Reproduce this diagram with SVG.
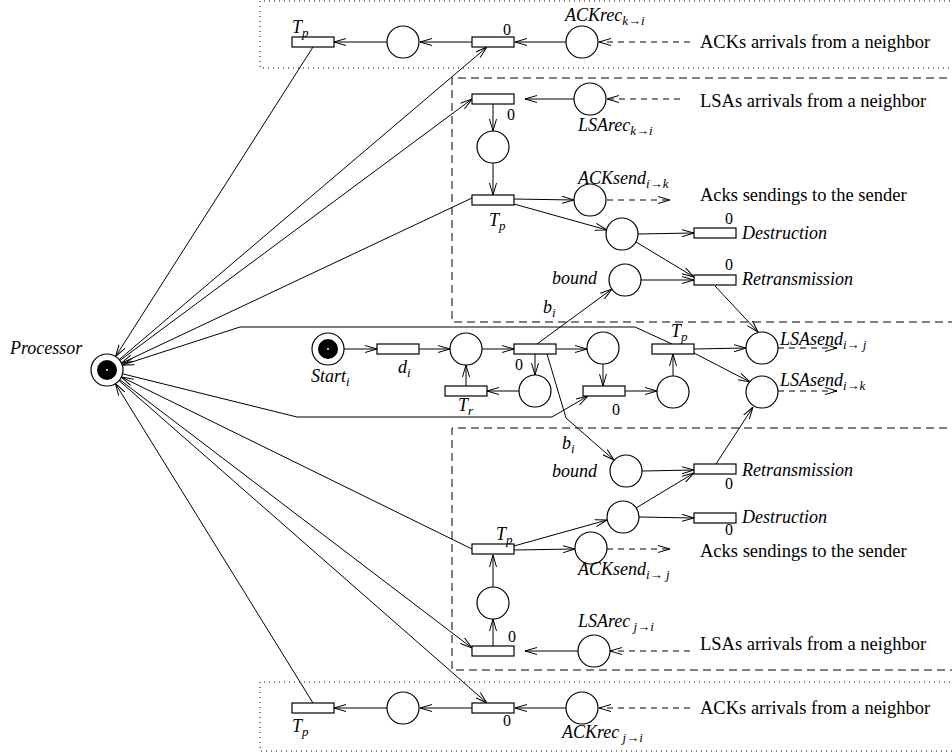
<svg xmlns="http://www.w3.org/2000/svg" width="952" height="756" viewBox="0 0 952 756">
<style>
.pl{fill:#fff;stroke:#000;stroke-width:1.2}
.tr{fill:#fff;stroke:#000;stroke-width:1.2}
.c{fill:none;stroke:#000;stroke-width:1;marker-end:url(#ah)}
.n{fill:none;stroke:#000;stroke-width:1}
.d{fill:none;stroke:#000;stroke-width:1;stroke-dasharray:6 5;marker-end:url(#ah)}
.bx{fill:none;stroke:#000;stroke-width:1;stroke-dasharray:8 5}
.dt{fill:none;stroke:#000;stroke-width:1;stroke-dasharray:1 4}
.l{font-family:"Liberation Serif",serif;font-style:italic;font-size:18px;fill:#000}
.s{font-size:13px}
.z{font-family:"Liberation Serif",serif;font-size:16px;fill:#000}
.t{font-family:"Liberation Serif",serif;font-size:18.5px;fill:#000}
</style>
<defs>
<marker id="ah" viewBox="0 0 12 8" refX="12" refY="4" markerWidth="12" markerHeight="8" markerUnits="userSpaceOnUse" orient="auto">
<path d="M0,0.5 L12,4 L0,7.5" fill="none" stroke="#000" stroke-width="1" stroke-dasharray="none"/>
</marker>
</defs>
<rect width="952" height="756" fill="#fff"/>

<g id="boxes">
<path class="dt" d="M960,1 H260 V68 H960"/>
<path class="bx" d="M960,78 H452 V322 H960"/>
<path class="bx" d="M960,428 H452 V670 H960"/>
<path class="dt" d="M960,682 H260 V751 H960"/>
</g>

<g id="connectors">
<line class="c" x1="566" y1="42" x2="515" y2="42"/>
<line class="c" x1="472" y1="42" x2="420" y2="42"/>
<line class="c" x1="387" y1="42" x2="334" y2="42"/>
<line class="d" x1="690" y1="42" x2="599" y2="42"/>
<line class="c" x1="574" y1="99" x2="525" y2="99"/>
<line class="d" x1="680" y1="99" x2="607" y2="99"/>
<line class="c" x1="493" y1="104" x2="493" y2="131"/>
<line class="c" x1="493" y1="163" x2="493" y2="195"/>
<line class="c" x1="514" y1="199" x2="574" y2="200"/>
<line class="d" x1="607" y1="200" x2="670" y2="200"/>
<line class="c" x1="514" y1="204" x2="607" y2="230"/>
<line class="c" x1="638" y1="234" x2="694" y2="233"/>
<line class="c" x1="636" y1="242" x2="694" y2="277"/>
<line class="c" x1="641" y1="280" x2="694" y2="280"/>
<line class="c" x1="715" y1="286" x2="758" y2="332"/>
<line class="c" x1="344" y1="349" x2="377" y2="349"/>
<line class="c" x1="419" y1="349" x2="450" y2="349"/>
<line class="c" x1="482" y1="349" x2="514" y2="349"/>
<line class="c" x1="535" y1="354" x2="535" y2="375"/>
<line class="c" x1="519" y1="391" x2="487" y2="391"/>
<line class="c" x1="466" y1="386" x2="466" y2="365"/>
<line class="c" x1="557" y1="349" x2="587" y2="349"/>
<line class="c" x1="603" y1="364" x2="603" y2="386"/>
<line class="c" x1="625" y1="391" x2="657" y2="391"/>
<line class="c" x1="673" y1="376" x2="673" y2="354"/>
<line class="c" x1="694" y1="349" x2="746" y2="348"/>
<line class="c" x1="694" y1="353" x2="750" y2="382"/>
<line class="d" x1="778" y1="348" x2="837" y2="348"/>
<line class="d" x1="778" y1="391" x2="837" y2="391"/>
<line class="c" x1="537" y1="344" x2="612" y2="289"/>
<polyline class="c" points="547,354 566,418 614,460"/>
<line class="c" x1="642" y1="471" x2="694" y2="470"/>
<line class="c" x1="716" y1="464" x2="753" y2="407"/>
<line class="c" x1="639" y1="517" x2="694" y2="518"/>
<line class="c" x1="636" y1="508" x2="694" y2="473"/>
<line class="c" x1="514" y1="546" x2="607" y2="520"/>
<line class="c" x1="514" y1="550" x2="575" y2="549"/>
<line class="d" x1="607" y1="549" x2="670" y2="549"/>
<line class="c" x1="493" y1="587" x2="493" y2="555"/>
<line class="c" x1="493" y1="646" x2="493" y2="619"/>
<line class="c" x1="578" y1="651" x2="525" y2="651"/>
<line class="d" x1="690" y1="651" x2="610" y2="651"/>
<line class="c" x1="566" y1="708" x2="515" y2="708"/>
<line class="c" x1="472" y1="708" x2="420" y2="708"/>
<line class="c" x1="387" y1="708" x2="334" y2="708"/>
<line class="d" x1="690" y1="708" x2="599" y2="708"/>
<line class="c" x1="313" y1="47" x2="115.6" y2="356.5"/>
<line class="c" x1="119.2" y1="359.6" x2="487" y2="47"/>
<line class="c" x1="119.8" y1="360.5" x2="472" y2="99"/>
<line class="c" x1="472" y1="198" x2="121.5" y2="363.2"/>
<polyline class="c" points="672,344 635,327 240,327 122.2,365.1"/>
<polyline class="c" points="122.5,373.8 297,417 552,417 588,396"/>
<line class="c" x1="472" y1="549" x2="121.4" y2="377"/>
<line class="c" x1="119.7" y1="379.7" x2="472" y2="648"/>
<line class="c" x1="119" y1="380.5" x2="487" y2="703"/>
<line class="c" x1="313" y1="703" x2="115.4" y2="383.6"/>
</g>

<g id="processor">
<circle class="pl" cx="107" cy="370" r="16"/>
<circle cx="107" cy="370" r="10" fill="#000"/>
<circle cx="107" cy="370" r="1" fill="#fff"/>
<text class="l" x="10" y="354">Processor</text>
</g>

<g id="top-tp"><rect class="tr" x="292" y="37" width="42" height="10"/><text class="l" x="292" y="33">T<tspan class="s" dy="4">p</tspan></text></g>
<g id="top-p"><circle class="pl" cx="403" cy="42" r="16"/></g>
<g id="top-t0"><rect class="tr" x="472" y="37" width="42" height="10"/><text class="z" x="503" y="35">0</text></g>
<g id="top-ackrec"><circle class="pl" cx="582" cy="42" r="16"/><text class="l" x="565" y="21">ACKrec<tspan class="s" dy="4">k→i</tspan></text></g>
<g id="top-note"><text class="t" x="700" y="48">ACKs arrivals from a neighbor</text></g>

<g id="up-t0"><rect class="tr" x="472" y="94" width="42" height="10"/><text class="z" x="507" y="120">0</text></g>
<g id="up-lsarec"><circle class="pl" cx="590" cy="99" r="16"/><text class="l" x="578" y="131">LSArec<tspan class="s" dy="4">k→i</tspan></text></g>
<g id="up-lsa-note"><text class="t" x="700" y="107">LSAs arrivals from a neighbor</text></g>
<g id="up-p1"><circle class="pl" cx="493" cy="147" r="16"/></g>
<g id="up-tp"><rect class="tr" x="472" y="195" width="42" height="10"/><text class="l" x="489" y="226">T<tspan class="s" dy="4">p</tspan></text></g>
<g id="up-acksend"><circle class="pl" cx="590" cy="200" r="16"/><text class="l" x="578" y="184">ACKsend<tspan class="s" dy="4">i→k</tspan></text></g>
<g id="up-ack-note"><text class="t" x="700" y="201">Acks sendings to the sender</text></g>
<g id="up-p2"><circle class="pl" cx="622" cy="234" r="16"/></g>
<g id="up-destr"><rect class="tr" x="694" y="228" width="42" height="10"/><text class="z" x="725" y="224">0</text><text class="l" x="742" y="239">Destruction</text></g>
<g id="up-bound"><circle class="pl" cx="625" cy="280" r="16"/><text class="l" x="552" y="284">bound</text></g>
<g id="up-retr"><rect class="tr" x="694" y="275" width="42" height="10"/><text class="z" x="725" y="270">0</text><text class="l" x="742" y="285">Retransmission</text></g>

<g id="start"><circle class="pl" cx="328" cy="349" r="16"/><circle cx="328" cy="349" r="10" fill="#000"/><circle cx="328" cy="349" r="1" fill="#fff"/><text class="l" x="311" y="382">Start<tspan class="s" dy="4">i</tspan></text></g>
<g id="di"><rect class="tr" x="377" y="344" width="42" height="10"/><text class="l" x="398" y="373">d<tspan class="s" dy="4">i</tspan></text></g>
<g id="band-p1"><circle class="pl" cx="466" cy="349" r="16"/></g>
<g id="band-t0"><rect class="tr" x="514" y="344" width="42" height="10"/><text class="z" x="515" y="370">0</text></g>
<g id="band-p2"><circle class="pl" cx="535" cy="391" r="16"/></g>
<g id="tr"><rect class="tr" x="445" y="386" width="42" height="10"/><text class="l" x="458" y="411">T<tspan class="s" dy="4">r</tspan></text></g>
<g id="band-p3"><circle class="pl" cx="603" cy="348" r="16"/></g>
<g id="band-t0b"><rect class="tr" x="583" y="386" width="42" height="10"/><text class="z" x="612" y="415">0</text></g>
<g id="band-p4"><circle class="pl" cx="673" cy="392" r="16"/></g>
<g id="band-tp"><rect class="tr" x="652" y="344" width="42" height="10"/><text class="l" x="671" y="337">T<tspan class="s" dy="4">p</tspan></text></g>
<g id="lsasend-j"><circle class="pl" cx="762" cy="348" r="16"/><text class="l" x="780" y="345">LSAsend<tspan class="s" dy="4">i→ j</tspan></text></g>
<g id="lsasend-k"><circle class="pl" cx="762" cy="392" r="16"/><text class="l" x="780" y="386">LSAsend<tspan class="s" dy="4">i→k</tspan></text></g>
<g id="bi-labels"><text class="l" x="543" y="313">b<tspan class="s" dy="4">i</tspan></text><text class="l" x="562" y="449">b<tspan class="s" dy="4">i</tspan></text></g>

<g id="lo-bound"><circle class="pl" cx="626" cy="471" r="16"/><text class="l" x="552" y="477">bound</text></g>
<g id="lo-retr"><rect class="tr" x="694" y="464" width="42" height="10"/><text class="z" x="725" y="489">0</text><text class="l" x="742" y="476">Retransmission</text></g>
<g id="lo-p2"><circle class="pl" cx="623" cy="517" r="16"/></g>
<g id="lo-destr"><rect class="tr" x="694" y="513" width="42" height="10"/><text class="z" x="725" y="535">0</text><text class="l" x="742" y="523">Destruction</text></g>
<g id="lo-tp"><rect class="tr" x="472" y="544" width="42" height="10"/><text class="l" x="496" y="540">T<tspan class="s" dy="4">p</tspan></text></g>
<g id="lo-acksend"><circle class="pl" cx="591" cy="548" r="16"/><text class="l" x="578" y="575">ACKsend<tspan class="s" dy="4">i→ j</tspan></text></g>
<g id="lo-ack-note"><text class="t" x="700" y="557">Acks sendings to the sender</text></g>
<g id="lo-p1"><circle class="pl" cx="493" cy="603" r="16"/></g>
<g id="lo-t0"><rect class="tr" x="472" y="646" width="42" height="10"/><text class="z" x="508" y="642">0</text></g>
<g id="lo-lsarec"><circle class="pl" cx="594" cy="651" r="16"/><text class="l" x="578" y="627">LSArec<tspan class="s" dy="4"> j→i</tspan></text></g>
<g id="lo-lsa-note"><text class="t" x="700" y="650">LSAs arrivals from a neighbor</text></g>

<g id="bot-tp"><rect class="tr" x="292" y="703" width="42" height="10"/><text class="l" x="292" y="732">T<tspan class="s" dy="4">p</tspan></text></g>
<g id="bot-p"><circle class="pl" cx="403" cy="708" r="16"/></g>
<g id="bot-t0"><rect class="tr" x="472" y="703" width="42" height="10"/><text class="z" x="503" y="726">0</text></g>
<g id="bot-ackrec"><circle class="pl" cx="582" cy="708" r="16"/><text class="l" x="562" y="738">ACKrec<tspan class="s" dy="4"> j→i</tspan></text></g>
<g id="bot-note"><text class="t" x="700" y="714">ACKs arrivals from a neighbor</text></g>
</svg>
